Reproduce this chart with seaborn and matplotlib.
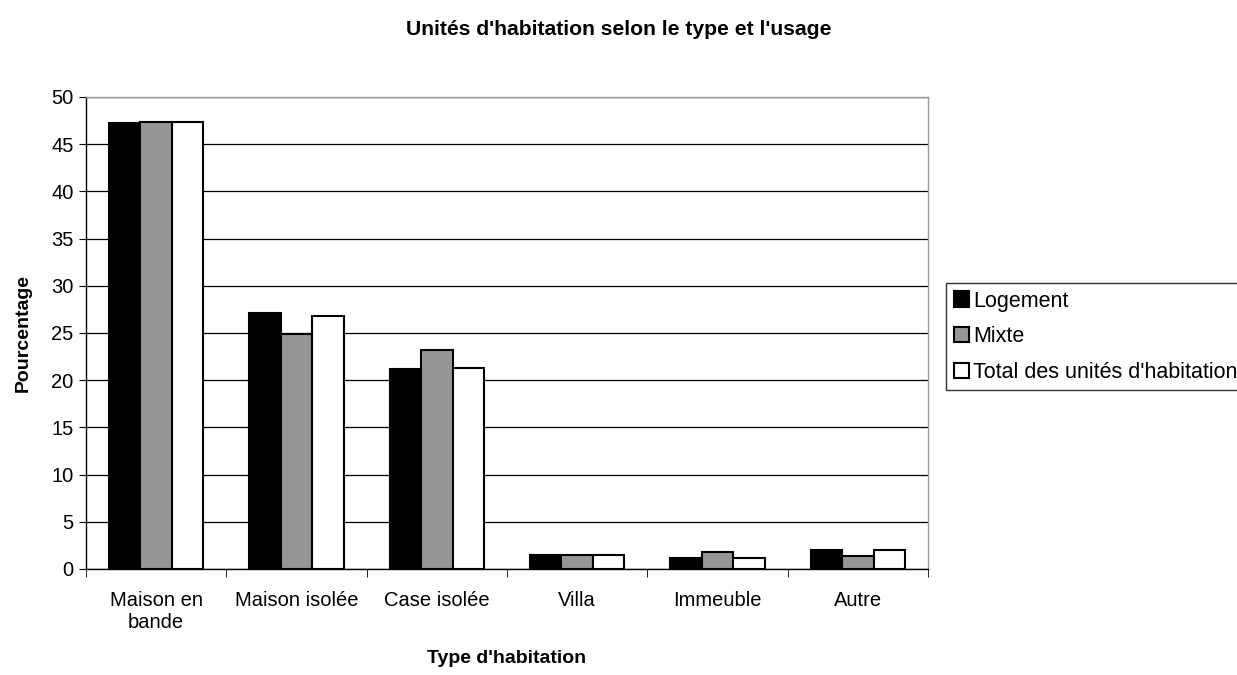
import pandas as pd
import seaborn as sns
import matplotlib.pyplot as plt
from matplotlib.ticker import FixedLocator

# values
categories = ["Maison en\nbande", "Maison isolée", "Case isolée", "Villa", "Immeuble", "Autre"]
series = ["Logement", "Mixte", "Total des unités d'habitation"]
logement = [47.2, 27.1, 21.2, 1.45, 1.15, 2.05]
mixte = [47.3, 24.9, 23.2, 1.45, 1.85, 1.35]
total = [47.3, 26.8, 21.3, 1.45, 1.2, 2.0]
colors = ["#000000", "#969696", "#ffffff"]

df = pd.DataFrame({
    "Type": categories * 3,
    "Usage": [series[0]] * 6 + [series[1]] * 6 + [series[2]] * 6,
    "Pourcentage": logement + mixte + total,
})

sns.set_style("white")
plt.rcParams['font.family'] = ['Liberation Sans', 'DejaVu Sans']
plt.rcParams['text.color'] = 'black'
plt.rcParams['axes.labelcolor'] = 'black'
plt.rcParams['xtick.color'] = 'black'
plt.rcParams['ytick.color'] = 'black'

fig = plt.figure(figsize=(12.37, 6.75), dpi=100)
ax = fig.add_axes([86 / 1237, 1 - 569 / 675, (928 - 86) / 1237, (569 - 97) / 675])

sns.barplot(data=df, x="Type", y="Pourcentage", hue="Usage", palette=colors,
            edgecolor="black", linewidth=1.5, width=0.67, ax=ax, legend=False)

ax.set_ylim(0, 50)
ax.set_xlim(-0.5, 5.5)
ax.set_yticks(range(0, 51, 5))
ax.yaxis.grid(True, color="black", linewidth=0.9)
ax.set_axisbelow(True)
for side in ["top", "right"]:
    ax.spines[side].set_color("#999999")
for side in ["left", "bottom"]:
    ax.spines[side].set_color("black")
for sp in ax.spines.values():
    sp.set_linewidth(1.0)

ax.tick_params(axis="y", which="major", length=5, direction="out", left=True, labelsize=14.5, pad=4)
ax.tick_params(axis="x", which="major", length=0, labelsize=14.5, pad=16)
ax.xaxis.set_minor_locator(FixedLocator([i - 0.5 for i in range(7)]))
ax.tick_params(axis="x", which="minor", length=6, direction="out", bottom=True)

ax.set_xlabel("Type d'habitation", fontsize=14, fontweight="bold")
ax.xaxis.set_label_coords(0.5, -0.172)
ax.set_ylabel("Pourcentage", fontsize=14, fontweight="bold", labelpad=14)
fig.suptitle("Unités d'habitation selon le type et l'usage", fontsize=15.2, fontweight="bold",
             x=619 / 1237, y=1 - 20 / 675)

handles = [plt.Rectangle((0, 0), 1, 1, facecolor=c, edgecolor="black", linewidth=1.5) for c in colors]
leg = fig.legend(handles, series, loc="upper left", bbox_to_anchor=(946 / 1237, 1 - 283 / 675),
                 fontsize=15.5, frameon=True, fancybox=False, handlelength=0.7, handleheight=0.7,
                 handletextpad=0.2, borderpad=0.35, labelspacing=0.68, borderaxespad=0)
leg.get_frame().set_edgecolor("black")
leg.get_frame().set_linewidth(1.0)

fig.savefig("out.png", dpi=100)
